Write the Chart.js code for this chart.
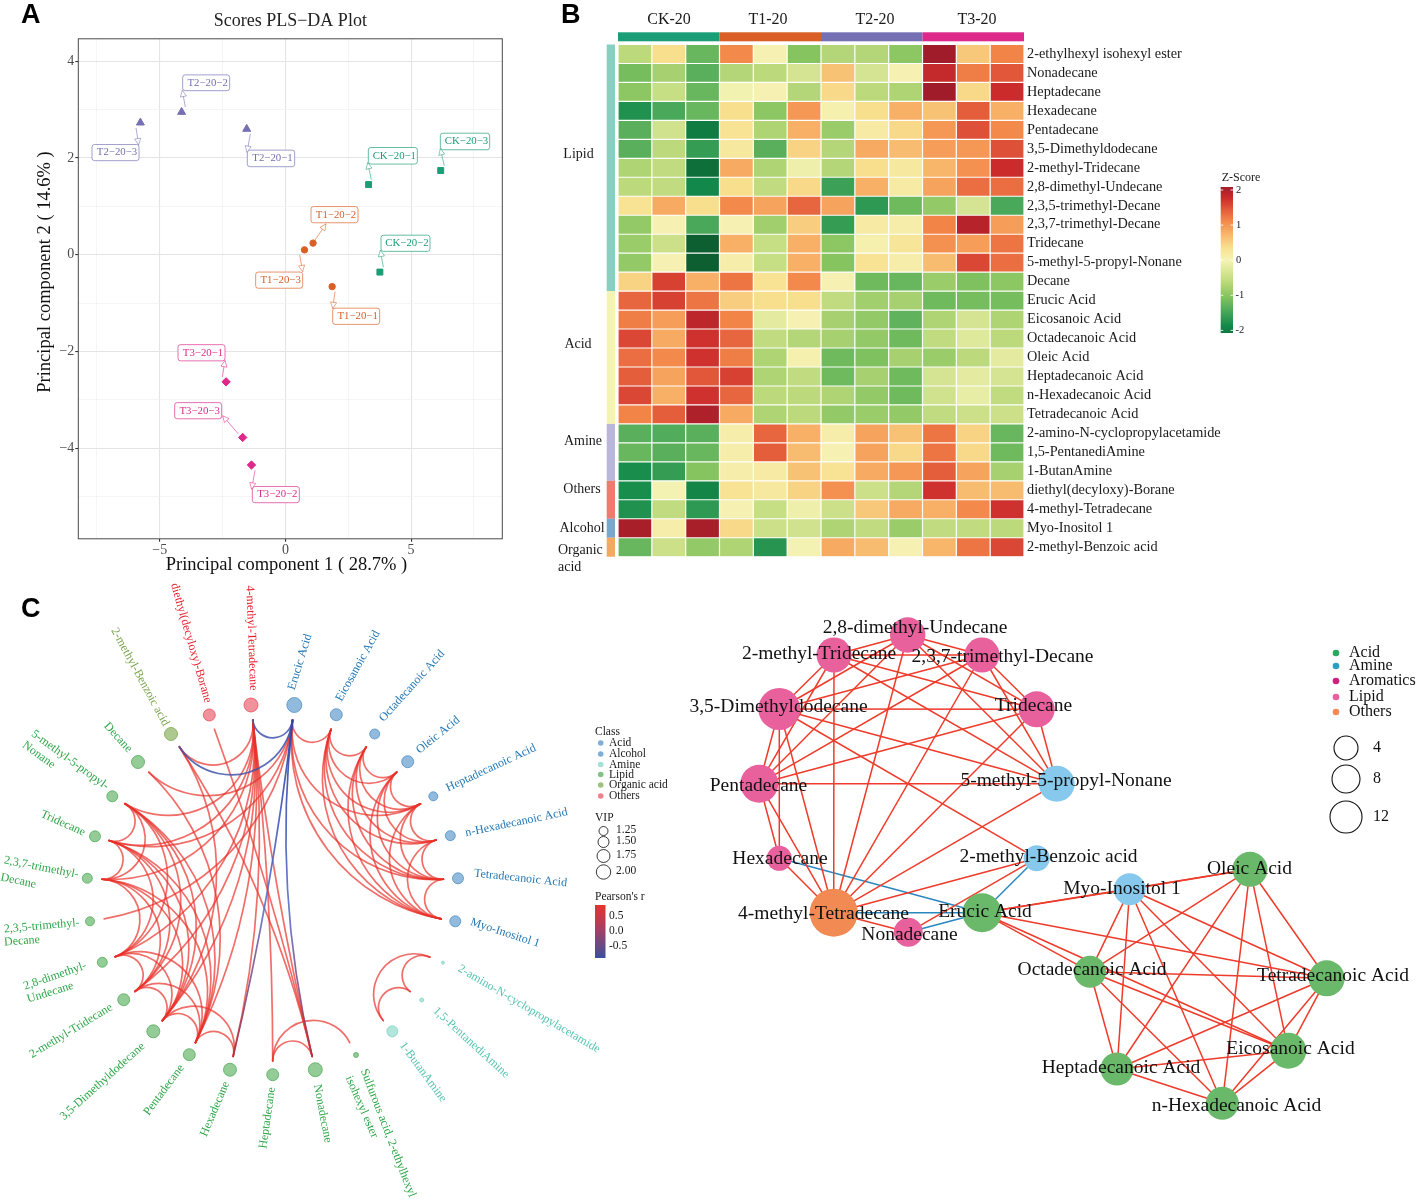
<!doctype html>
<html><head><meta charset="utf-8">
<style>html,body{margin:0;padding:0;background:#fff;width:1417px;height:1199px;overflow:hidden}canvas{position:absolute;display:block}</style>
<script src="https://cdn.jsdelivr.net/npm/chart.js@4"></script>
</head><body>
<canvas id="pa" width="550" height="578" style="left:0;top:0"></canvas>
<canvas id="pb" width="740" height="580" style="left:550px;top:0"></canvas>
<canvas id="pc" width="689" height="621" style="left:0;top:578px"></canvas>
<canvas id="pd" width="737" height="609" style="left:680px;top:590px"></canvas>
<script>
/* ---------- Panel A data ---------- */
const sampleNames = ['CK−20−1','CK−20−2','CK−20−3','T1−20−1','T1−20−2','T1−20−3','T2−20−1','T2−20−2','T2−20−3','T3−20−1','T3−20−2','T3−20−3'];
const ckX = [3.31, 3.76, 6.18], ckY = [1.45, -0.36, 1.74];
const t1X = [1.86, 1.10, 0.76], t1Y = [-0.66, 0.24, 0.10];
const t2X = [-1.54, -4.13, -5.77], t2Y = [2.60, 2.95, 2.73];
const t3X = [-2.36, -1.35, -1.70], t3Y = [-2.63, -4.35, -3.78];

/* ---------- Panel B data ---------- */
const groupNames = ['CK-20','T1-20','T2-20','T3-20'];
const metabolites = ['2-ethylhexyl isohexyl ester','Nonadecane','Heptadecane','Hexadecane','Pentadecane','3,5-Dimethyldodecane','2-methyl-Tridecane','2,8-dimethyl-Undecane','2,3,5-trimethyl-Decane','2,3,7-trimethyl-Decane','Tridecane','5-methyl-5-propyl-Nonane','Decane','Erucic Acid','Eicosanoic Acid','Octadecanoic Acid','Oleic Acid','Heptadecanoic Acid','n-Hexadecanoic Acid','Tetradecanoic Acid','2-amino-N-cyclopropylacetamide','1,5-PentanediAmine','1-ButanAmine','diethyl(decyloxy)-Borane','4-methyl-Tetradecane','Myo-Inositol 1','2-methyl-Benzoic acid'];
const zScores = [
[-.6,.35,-1.2,1.05,.03,-1,-.65,-.65,-.95,2,.55,1.1],
[-1.1,-.75,-1.3,-.65,-.6,-.35,.6,-.35,.03,1.75,1.15,1.4],
[-.95,-.5,-1.2,-.05,.03,-.65,.4,-.6,-.7,2,.4,1.7],
[-1.7,-1.4,-1.2,.35,-.95,.95,.05,.35,.75,.6,1.35,.75],
[-1.3,-.4,-1.95,.3,-.7,.75,-.85,.15,.4,.95,1.45,1.05],
[-1.3,-.6,-1.55,.2,-1.3,.45,-.65,.8,.65,.9,.95,1.45],
[-.7,-.55,-2.1,.8,-.7,-.1,-.65,.35,.2,.7,1,1.7],
[-.6,-.55,-1.8,.35,-.55,.4,-1.5,.75,.15,.85,1.25,1.25],
[.3,.8,.35,1.05,.85,1.3,.85,-1.6,-1.15,-.9,-.35,-1.4],
[-.9,.03,-1.4,.03,-.8,.5,-1.55,.15,.1,1.1,1.85,.9],
[-.85,-.45,-2.3,.75,-.5,.75,-.95,.05,.25,1,.9,1.2],
[-.9,.03,-2.3,.1,-.5,.75,-1,.3,.1,.65,1.5,1.25],
[.45,1.55,.75,1.2,.3,1.05,.03,-1.15,-1.2,-.85,-1.05,-.95],
[1.3,1.55,1.2,.5,.35,.35,-.55,-.8,-.75,-1.15,-1.1,-1.1],
[1.15,.9,1.8,1.1,-.2,.03,-.75,-.9,-1.25,-.7,-.35,-.7],
[1.5,.8,1.65,1.3,-.55,-.65,-.75,-.9,-1.15,-.55,-.25,-.6],
[1.25,1.05,1.65,1.15,-.7,.05,-1.15,-1.05,-.75,-.85,-.6,-.2],
[1.35,.85,1.4,1.55,-.7,-.55,-1.15,-.75,-1.15,-.35,-.2,-.35],
[1.5,.75,1.65,1.3,-.6,-.6,-.7,-.9,-1.15,-.4,-.15,-.55],
[1.1,1.35,1.9,.8,-.7,-.6,-.9,-.85,-.9,-.55,-.45,-.45],
[-1.3,-1.35,-1.3,.1,1.3,.75,.1,.85,.6,1.2,.45,-1.2],
[-1.2,-1.3,-1.2,.1,1.35,.65,.03,.85,.4,1.2,.4,-1.15],
[-1.75,-1.55,-1,.1,.15,.6,.3,.8,.95,1.35,.85,-.75],
[-1.75,-.03,-1.85,.3,.2,.45,1,-.45,-.65,1.65,.65,.65],
[-1.7,-.55,-1.6,.03,-.5,-.1,-.45,.55,.8,.75,1.05,1.65],
[1.95,.1,1.95,.4,-.45,-.4,-.7,-.55,-.85,-.55,-.55,-.6],
[-1.2,-.45,-.9,-.7,-1.65,-.03,.8,.65,.03,.7,1.2,1.5]];
const classNames = ['Lipid','Acid','Amine','Others','Alcohol','Organic\nacid'];
const classRowCounts = [13,7,3,2,1,1];
const zTicks = [2,1,0,-1,-2];

/* ---------- Panel C data ---------- */
const cKeys = ['diethyl','4mT','Eru','Benz','Dec','5m5p','Tri','237','235','28','2mT','35','Pen','Hexa','Hepta','Nona','Sulf','But','Eico','Octa','Ole','Hda','nHex','Tet','Myo','Ami','Pda'];
const cClass = ['Others','Others','Acid','Organic acid','Lipid','Lipid','Lipid','Lipid','Lipid','Lipid','Lipid','Lipid','Lipid','Lipid','Lipid','Lipid','Lipid','Amine','Acid','Acid','Acid','Acid','Acid','Acid','Alcohol','Amine','Amine'];
const cX = [209.3,251,294.3,171,138,112.3,95,87.3,90,102.3,123.7,153.3,189.3,230,272.7,315.3,356,392.3,336.3,374.7,407.7,433.3,450.3,458,455.3,443,421.7];
const cY = [715,705,705,734,762,796.3,836.3,878.3,921.3,962.3,999.7,1031.3,1054.7,1069.7,1074.7,1069.7,1055,1031.3,714.7,734,761.7,796.3,835.7,878.3,921.3,962.7,1000];
const cVip = [1.55,1.85,2.0,1.70,1.70,1.40,1.40,1.25,1.10,1.25,1.55,1.70,1.55,1.70,1.55,1.85,.50,1.40,1.55,1.25,1.55,1.10,1.25,1.40,1.40,.20,.35];
const cLabels = ['diethyl(decyloxy)-Borane','4-methyl-Tetradecane','Erucic Acid','2-methyl-Benzoic acid','Decane','5-methyl-5-propyl-|Nonane','Tridecane','2,3,7-trimethyl-|Decane','2,3,5-trimethyl-|Decane','2,8-dimethyl-|Undecane','2-methyl-Tridecane','3,5-Dimethyldodecane','Pentadecane','Hexadecane','Heptadecane','Nonadecane','Sulfurous acid, 2-ethylhexyl|isohexyl ester','1-ButanAmine','Eicosanoic Acid','Octadecanoic Acid','Oleic Acid','Heptadecanoic Acid','n-Hexadecanoic Acid','Tetradecanoic Acid','Myo-Inositol 1','2-amino-N-cyclopropylacetamide','1,5-PentanediAmine'];
const cLabelPlace = {
 diethyl:[[191,643,74]],'4mT':[[251.5,638,88]],Eru:[[300,662,-73]],Benz:[[140,677,61.5]],Dec:[[118,737.5,48]],
 '5m5p':[[70,760,36],[38.8,755,36]],Tri:[[63,823.3,24]],'237':[[41.3,867.5,11],[18.3,881,12]],'235':[[41.7,926,-5],[22,941,-4]],
 '28':[[55,976,-19],[50.3,992.5,-17]],'2mT':[[71,1031,-31]],'35':[[102.5,1081.5,-42]],Pen:[[164,1090,-53.5]],Hexa:[[215,1109,-67]],
 Hepta:[[267.5,1118,-82]],Nona:[[322.5,1113.5,79]],Sulf:[[388,1133,69],[361.7,1107,66.5]],But:[[423,1072,53.7]],
 Eico:[[358,666,-60.8]],Octa:[[412,686,-48]],Ole:[[438,735,-39]],Hda:[[491,768,-25]],nHex:[[516.5,822.5,-11.8]],Tet:[[520.5,878.3,6]],
 Myo:[[505,933,18]],Ami:[[529,1009,30.4]],Pda:[[471,1042.5,42.5]]};
const classLegend = ['Acid','Alcohol','Amine','Lipid','Organic acid','Others'];
const vipLegend = ['1.25','1.50','1.75','2.00'];
const rLegend = ['0.5','0.0','-0.5'];

/* ---------- Panel D data ---------- */
const dKeys = ['28','2mT','237','35','Tri','5m5p','Pen','Hexa','4mT','Nona','Eru','Benz','Myo','Ole','Octa','Tet','Eico','Hda','nHex'];
const dLabels = ['2,8-dimethyl-Undecane','2-methyl-Tridecane','2,3,7-trimethyl-Decane','3,5-Dimethyldodecane','Tridecane','5-methyl-5-propyl-Nonane','Pentadecane','Hexadecane','4-methyl-Tetradecane','Nonadecane','Erucic Acid','2-methyl-Benzoic acid','Myo-Inositol 1','Oleic Acid','Octadecanoic Acid','Tetradecanoic Acid','Eicosanoic Acid','Heptadecanoic Acid','n-Hexadecanoic Acid'];
const dClass = ['Lipid','Lipid','Lipid','Lipid','Lipid','Amine','Lipid','Lipid','Others','Lipid','Acid','Amine','Amine','Acid','Acid','Acid','Acid','Acid','Acid'];
const dX = [907.7,834,982,779.3,1036.7,1056.7,759.3,779.3,833.7,908.3,982,1036.7,1129.7,1250,1090,1326.7,1288.3,1117,1222.3];
const dY = [635,655,655,709,709.3,783.7,783.7,858.3,912.7,932.3,912.7,858.3,889.3,869.3,971.7,978.3,1050.7,1069,1103.3];
const dDegree = [15.4,15,15,22,16,16,18,5,28,9,19,6,12,15,12,16,16,13,13];
const dLabelX = [915,819,1002.5,778.5,1033.5,1066,758.5,780,823.5,909.5,985,1048.5,1122,1249.5,1092,1333,1290.5,1121,1236.5];
const dLabelY = [628,654,657,707,706,781,786,859,914,935,912,857,889,869,970,976,1049,1068,1106];
const dLegendClasses = ['Acid','Amine','Aromatics','Lipid','Others'];
const dLegendSizes = [4,8,12];

/* ---------- Correlation edges ---------- */
const posEdges = ('5m5p-Tri 5m5p-237 5m5p-28 5m5p-2mT 5m5p-35 5m5p-Pen Tri-237 Tri-28 Tri-2mT Tri-35 Tri-Pen 237-28 237-2mT 237-35 237-Pen 28-2mT 28-35 28-Pen 2mT-35 2mT-Pen 35-Pen 35-Hexa Pen-Hexa ' +
 '28-4mT 2mT-4mT 237-4mT 35-4mT Tri-4mT 5m5p-4mT Pen-4mT Hexa-4mT Benz-4mT Benz-35 Benz-Nona 4mT-Nona ' +
 'Eru-Myo Eru-Tet Eru-Eico Myo-Ole Myo-Octa Myo-Hda Myo-nHex Myo-Eico Myo-Tet Ole-Octa Ole-Hda Ole-nHex Ole-Eico Ole-Tet Octa-Tet Octa-Eico Octa-Hda Octa-nHex Tet-Eico Tet-Hda Tet-nHex Eico-Hda Eico-nHex Hda-nHex').split(' ').map(s=>s.split('-'));
const negEdges = ('4mT-Eru Benz-Eru Hexa-Eru Nona-Eru').split(' ').map(s=>s.split('-'));
const cOnlyEdges = ('Eru-Hda Eru-Dec 235-Eru Dec-Pen diethyl-Nona 4mT-Hepta Hepta-Nona Hepta-Sulf Ami-Pda Ami-But Pda-But Tri-Eru').split(' ').map(s=>s.split('-'));
const dOnlyEdges = ('Eru-Octa Eru-Ole').split(' ').map(s=>s.split('-'));

/* ---------- Helpers ---------- */
const SERIF = '"Liberation Serif","Times New Roman",serif';
const GROUP = ['#1b9e77','#d95f26','#7570b3','#dd2a8a'];
Chart.defaults.animation = false;
Chart.defaults.responsive = false;
Chart.defaults.devicePixelRatio = 1;
Chart.defaults.events = [];
Chart.defaults.plugins.legend.display = false;
Chart.defaults.plugins.tooltip.enabled = false;

function letter(ctx,t,x,y){ctx.save();ctx.fillStyle='#000';ctx.font='bold 27px "Liberation Sans",Arial,sans-serif';ctx.textAlign='left';ctx.textBaseline='alphabetic';ctx.fillText(t,x,y);ctx.restore();}
function txt(ctx,t,x,y,font,color,align){ctx.font=font;ctx.fillStyle=color;ctx.textAlign=align||'left';ctx.textBaseline='middle';ctx.fillText(t,x,y);}

/* ---------- Panel A ---------- */
const F = 1568/590;
const boxZ = [[1105,392,1252,436],[1143,625,1290,668],[1321,354,1469,398],[998,819,1139,862],[933,549,1074,592],[767,723,908,766],[742,399,884,443],[548,199,689,241],[276,384,417,427],[534,916,675,959],[757,1293,898,1336],[524,1070,665,1113]];
const arrowZ = [[1114,478,1103,432],[1150,710,1141,665],[1333,441,1321,395],[1005,775,998,820],[945,638,978,595],[899,677,908,722],[751,356,741,405],[556,285,547,240],[408,340,416,385],[667,1002,675,958],[765,1250,755,1300],[715,1153,668,1105]];
const toXY=(xs,ys)=>xs.map((x,i)=>({x,y:ys[i]}));
new Chart(document.getElementById('pa'),{
 type:'scatter',
 data:{datasets:[
  {label:'CK-20',data:toXY(ckX,ckY),pointStyle:'rect',pointRadius:4.2,backgroundColor:GROUP[0],borderColor:GROUP[0]},
  {label:'T1-20',data:toXY(t1X,t1Y),pointStyle:'circle',pointRadius:3.2,backgroundColor:GROUP[1],borderColor:GROUP[1]},
  {label:'T2-20',data:toXY(t2X,t2Y),pointStyle:'triangle',pointRadius:4.6,backgroundColor:GROUP[2],borderColor:GROUP[2]},
  {label:'T3-20',data:toXY(t3X,t3Y),pointStyle:'rectRot',pointRadius:4.2,backgroundColor:GROUP[3],borderColor:GROUP[3]}]},
 options:{
  layout:{autoPadding:false,padding:{left:0,right:550-502.3,top:10,bottom:0}},
  plugins:{title:{display:true,text:'Scores PLS−DA Plot',color:'#222',fullSize:false,font:{family:SERIF,size:18,weight:'normal'},padding:{top:0,bottom:7.2}}},
  scales:{
   x:{type:'linear',min:-8.24,max:8.63,afterFit:s=>{s.height=578-538.8;},
      ticks:{stepSize:2.5,includeBounds:false,autoSkip:false,maxRotation:0,padding:0,color:'#4d4d4d',font:{family:SERIF,size:14},callback:v=>v%5===0?String(v).replace('-','−'):''},
      grid:{tickLength:3,color:c=>c.tick&&c.tick.value%5===0?'#e4e4e4':'#f0f0f0',lineWidth:c=>c.tick&&c.tick.value%5===0?1.1:.7,tickColor:c=>c.tick&&c.tick.value%5===0?'#333':'rgba(0,0,0,0)'},
      border:{display:false}},
   y:{type:'linear',min:-5.876,max:4.465,afterFit:s=>{s.width=78.3;},
      ticks:{stepSize:1,includeBounds:false,autoSkip:false,padding:1,color:'#4d4d4d',font:{family:SERIF,size:14},callback:v=>v%2===0&&v!==-6?String(v).replace('-','−'):''},
      grid:{tickLength:3,color:c=>c.tick&&c.tick.value%2===0?'#e4e4e4':'#f0f0f0',lineWidth:c=>c.tick&&c.tick.value%2===0?1.1:.7,tickColor:c=>c.tick&&c.tick.value%2===0?'#333':'rgba(0,0,0,0)'},
      border:{display:false}}
  }},
 plugins:[{id:'a',afterDraw(ch){
  const c=ch.ctx,a=ch.chartArea;c.save();
  c.strokeStyle='#4a4a4a';c.lineWidth=1;c.strokeRect(a.left,a.top,a.width,a.height);
  txt(c,'Principal component 1 ( 28.7% )',286.5,565.5,'18.5px '+SERIF,'#111','center');
  c.save();c.translate(45,272);c.rotate(-Math.PI/2);txt(c,'Principal component 2 ( 14.6% )',0,0,'18.5px '+SERIF,'#111','center');c.restore();
  sampleNames.forEach((n,i)=>{
   const col=GROUP[Math.floor(i/3)],b=boxZ[i],e=arrowZ[i];
   const x0=b[0]/3,y0=b[1]/F,x1=b[2]/3,y1=b[3]/F;
   c.lineWidth=.9;c.globalAlpha=.65;c.strokeStyle=col;
   const sx=e[0]/3,sy=e[1]/F,ex=e[2]/3,ey=e[3]/F;
   c.beginPath();c.moveTo(sx,sy);c.lineTo(ex,ey);c.stroke();
   c.fillStyle='#fff';c.globalAlpha=1;c.beginPath();c.roundRect(x0,y0,x1-x0,y1-y0,2.5);c.fill();
   c.globalAlpha=.75;c.stroke();
   const ang=Math.atan2(ey-sy,ex-sx);
   c.beginPath();c.moveTo(ex,ey);c.lineTo(ex-7*Math.cos(ang-.45),ey-7*Math.sin(ang-.45));c.lineTo(ex-7*Math.cos(ang+.45),ey-7*Math.sin(ang+.45));c.closePath();
   c.globalAlpha=1;c.fillStyle='#fff';c.fill();c.globalAlpha=.6;c.stroke();c.globalAlpha=1;
   txt(c,n,(x0+x1)/2+1.5,(y0+y1)/2,'10.8px '+SERIF,col,'center');
  });
  c.restore();letter(c,'A',21,23);
 }}]
});

/* ---------- Panel B ---------- */
const STOPS=[[-2.3,[13,94,48]],[-1.8,[18,137,74]],[-1.4,[74,168,90]],[-1,[133,196,95]],[-.6,[188,217,123]],[-.25,[223,233,155]],[0,[246,243,181]],[.35,[248,223,142]],[.75,[248,176,102]],[1.1,[242,132,72]],[1.4,[226,87,58]],[1.7,[203,43,43]],[2,[161,28,42]]];
function zColor(z){z=Math.max(-2.3,Math.min(2,z));for(let i=1;i<STOPS.length;i++){if(z<=STOPS[i][0]){const a=STOPS[i-1],b=STOPS[i],t=(z-a[0])/(b[0]-a[0]);return 'rgb('+a[1].map((v,k)=>Math.round(v+(b[1][k]-v)*t)).join(',')+')';}}return 'rgb(161,28,42)';}
const classColors=['#86d0c2','#f5f3b0','#bab6dc','#f07a6e','#78a8cc','#f4a95f'];
const classLabelPos=[[578.5,154],[578,344],[583,441],[582,489.5],[582,528],[582,550]];
new Chart(document.getElementById('pb'),{
 type:'bar',
 data:{labels:metabolites,datasets:zScores[0].map((_,j)=>({
   label:'S'+j,grouped:false,barPercentage:.94,categoryPercentage:1,borderWidth:0,
   data:zScores.map(()=>[j+.018,j+.982]),
   backgroundColor:zScores.map(r=>zColor(r[j]))}))},
 options:{indexAxis:'y',
  layout:{autoPadding:false,padding:{left:68,top:44.5,right:0,bottom:580-556.7}},
  scales:{
   x:{type:'linear',display:false,min:0,max:12},
   y:{type:'category',position:'right',afterFit:s=>{s.width=740-474;},
      grid:{display:false,drawTicks:false},border:{display:false},
      ticks:{autoSkip:false,padding:3,color:'#1a1a1a',font:{family:SERIF,size:14.3}}}}},
 plugins:[{id:'b',afterDraw(ch){
  const c=ch.ctx,xs=ch.scales.x,ys=ch.scales.y;c.save();c.translate(-550,0);
  const rowTop=i=>ys.getPixelForValue(0)+(i-.5)*(ys.getPixelForValue(1)-ys.getPixelForValue(0));
  groupNames.forEach((g,i)=>{
   const x0=xs.getPixelForValue(i*3)+550,x1=xs.getPixelForValue(i*3+3)+550;
   c.fillStyle=GROUP[i];c.fillRect(x0,32.3,x1-x0,9);
   txt(c,g,[669,768,875,977][i],19.5,'16px '+SERIF,'#1a1a1a','center');
  });
  let r=0;classNames.forEach((n,i)=>{
   c.fillStyle=classColors[i];c.fillRect(606.7,rowTop(r),8.3,rowTop(r+classRowCounts[i])-rowTop(r));
   n.split('\n').forEach((l,k)=>txt(c,l,i===5?558:classLabelPos[i][0],classLabelPos[i][1]+k*17,'14px '+SERIF,'#1a1a1a',i===5?'left':'center'));
   r+=classRowCounts[i];
  });
  /* Z-score colour bar */
  const g=c.createLinearGradient(0,187,0,333);
  for(let k=0;k<=40;k++){const z=2-4.0*k/40;g.addColorStop(k/40,zColor(z));}
  c.fillStyle=g;c.fillRect(1220.7,187,12.3,146);
  txt(c,'Z-Score',1241,178,'12px '+SERIF,'#1a1a1a','center');
  zTicks.forEach((t,i)=>{const y=190+(2-t)*35.1;
   c.fillStyle='rgba(255,255,255,.85)';c.fillRect(1220.7,y-.5,2.5,1);c.fillRect(1230.5,y-.5,2.5,1);
   txt(c,String(t),t<0?1235.5:1236,y,'10.5px '+SERIF,'#1a1a1a','left');});
  c.restore();letter(c,'B',11,23);
 }}]
});

/* ---------- Panel C ---------- */
const C_CENTER=[272.7,890],C_R=171;
const classColor={Acid:[74,140,196],Alcohol:[74,140,196],Amine:[126,211,196],Lipid:[76,170,84],'Organic acid':[120,165,70],Others:[232,72,88]};
const textColor={Acid:'#2478b4',Alcohol:'#2478b4',Amine:'#57c4b2',Lipid:'#2ea648','Organic acid':'#7ba34c',Others:'#e6202e'};
const cEdgeList=[...posEdges.filter(e=>cKeys.includes(e[0])&&cKeys.includes(e[1])).map(e=>[e[0],e[1],'p']),...cOnlyEdges.map(e=>[e[0],e[1],'p']),...negEdges.map(e=>[e[0],e[1],'n'])];
const vipR=v=>3.33*v+.83;
new Chart(document.getElementById('pc'),{
 type:'bubble',
 data:{datasets:[{label:'VIP',data:cKeys.map((k,i)=>({x:cX[i],y:cY[i],r:vipR(cVip[i])})),
   backgroundColor:cClass.map(k=>'rgba('+classColor[k].join(',')+',.6)'),
   borderColor:cClass.map(k=>'rgba('+classColor[k].join(',')+',.75)'),borderWidth:1,clip:false}]},
 options:{layout:{autoPadding:false,padding:0},scales:{x:{type:'linear',display:false,min:0,max:689},y:{type:'linear',display:false,min:578,max:1199,reverse:true}}},
 plugins:[{id:'c',
  beforeDatasetsDraw(ch){
   const c=ch.ctx,sx=ch.scales.x,sy=ch.scales.y;
   const O=[sx.getPixelForValue(C_CENTER[0]),sy.getPixelForValue(C_CENTER[1])];
   const anchor=k=>{const i=cKeys.indexOf(k),a=Math.atan2(cY[i]-C_CENTER[1],cX[i]-C_CENTER[0]);return {a,x:O[0]+C_R*Math.cos(a),y:O[1]+C_R*Math.sin(a)};};
   c.save();c.lineWidth=1.7;c.lineCap='round';
   cEdgeList.forEach(e=>{
    const P=anchor(e[0]),Q=anchor(e[1]);
    let d=Q.a-P.a;while(d>Math.PI)d-=2*Math.PI;while(d<-Math.PI)d+=2*Math.PI;
    const half=Math.abs(d)/2,mid=P.a+d/2;
    if(e[2]==='n'){
     if(e[0]==='Hexa'||e[0]==='Nona'){const g=c.createLinearGradient(Q.x,Q.y,P.x,P.y);g.addColorStop(0,'rgba(50,70,165,.95)');g.addColorStop(.55,'rgba(90,110,200,.9)');g.addColorStop(1,'rgba(170,50,70,.9)');c.strokeStyle=g;}
     else c.strokeStyle='rgba(62,85,170,.85)';
    } else c.strokeStyle='rgba(232,48,42,.7)';
    c.beginPath();
    if(half>1.52){c.moveTo(P.x,P.y);c.lineTo(Q.x,Q.y);}
    else{
     const dist=C_R/Math.cos(half),rr=C_R*Math.tan(half);
     const cx=O[0]+dist*Math.cos(mid),cy=O[1]+dist*Math.sin(mid);
     const s=Math.atan2(P.y-cy,P.x-cx),t=Math.atan2(Q.y-cy,Q.x-cx);
     let sw=t-s;while(sw>Math.PI)sw-=2*Math.PI;while(sw<-Math.PI)sw+=2*Math.PI;
     c.arc(cx,cy,rr,s,t,sw<0);
    }
    c.stroke();
   });
   c.restore();
  },
  afterDraw(ch){
   const c=ch.ctx;c.save();c.translate(0,-578);
   cKeys.forEach((k,i)=>{
    const lines=cLabels[i].split('|'),pl=cLabelPlace[k];
    lines.forEach((l,j)=>{const p=pl[j];c.save();c.translate(p[0],p[1]);c.rotate(p[2]*Math.PI/180);
     txt(c,l,0,0,'12px '+SERIF,textColor[cClass[i]],'center');c.restore();});
   });
   const F11='11.5px '+SERIF,INK='#1a1a1a';
   txt(c,'Class',595,731.5,F11,INK);
   const cy=[743,754,764.5,774.5,785,796];
   classLegend.forEach((n,i)=>{c.fillStyle='rgba('+classColor[n].join(',')+',.7)';c.beginPath();c.arc(600.7,cy[i],2.8,0,7);c.fill();txt(c,n,609,cy[i],F11,INK);});
   txt(c,'VIP',595,817.5,F11,INK);
   const vy=[831,842,856,872],vr=[4.5,5.5,6.5,7.2];
   vipLegend.forEach((n,i)=>{c.strokeStyle='#222';c.lineWidth=.9;c.beginPath();c.arc(603.5,vy[i],vr[i],0,7);c.stroke();txt(c,n,616,vy[i]-1,F11,INK);});
   txt(c,"Pearson's r",595,897,F11,INK);
   const g=c.createLinearGradient(0,905,0,958);g.addColorStop(0,'#e8332a');g.addColorStop(.5,'#a0406a');g.addColorStop(1,'#3a50a0');
   c.fillStyle=g;c.fillRect(595,905,10.5,53);
   [916,931,946].forEach((y,i)=>txt(c,rLegend[i],609,y,F11,INK));
   c.restore();letter(c,'C',21,617-578);
  }}]
});

/* ---------- Panel D ---------- */
const dFill={Lipid:'#e8609c',Amine:'#87c9ec',Others:'#f28a54',Acid:'#6ab86a'};
const degR=d=>10+.5*d;
const dPt=k=>{const i=dKeys.indexOf(k);return {x:dX[i],y:dY[i]};};
const lineDs=(e,col)=>({type:'scatter',showLine:true,data:[dPt(e[0]),dPt(e[1])],borderColor:col,borderWidth:1.5,pointRadius:0,order:2,clip:false});
new Chart(document.getElementById('pd'),{
 type:'bubble',
 data:{datasets:[
  ...[...posEdges,...dOnlyEdges].map(e=>lineDs(e,'#ee3b2a')),
  ...negEdges.map(e=>lineDs(e,'#2b87c0')),
  {type:'bubble',order:1,clip:false,data:dKeys.map((k,i)=>({x:dX[i],y:dY[i],r:degR(dDegree[i])})),backgroundColor:dClass.map(k=>dFill[k]),borderWidth:0}]},
 options:{layout:{autoPadding:false,padding:0},scales:{x:{type:'linear',display:false,min:680,max:1417},y:{type:'linear',display:false,min:590,max:1199,reverse:true}}},
 plugins:[{id:'d',afterDraw(ch){
  const c=ch.ctx;c.save();c.translate(-680,-590);
  dLabels.forEach((l,i)=>txt(c,l,dLabelX[i],dLabelY[i],'19.5px '+SERIF,'#111','center'));
  const ly=[653,666,681,697,712],lc=['#2aa860','#2a9fc4','#d01f7e','#ea5f9c','#f28a54'];
  dLegendClasses.forEach((n,i)=>{c.fillStyle=lc[i];c.beginPath();c.arc(1336,ly[i],3.3,0,7);c.fill();txt(c,n,1349,ly[i],'16px '+SERIF,'#111');});
  const sy=[748,779,817],sr=[12,14,16];
  dLegendSizes.forEach((n,i)=>{c.strokeStyle='#111';c.lineWidth=1.1;c.beginPath();c.arc(1346,sy[i],sr[i],0,7);c.stroke();txt(c,String(n),1373,sy[i],'16px '+SERIF,'#111');});
  c.restore();letter(c,'D',643-680,616-590);
 }}]
});
</script>
</body></html>
